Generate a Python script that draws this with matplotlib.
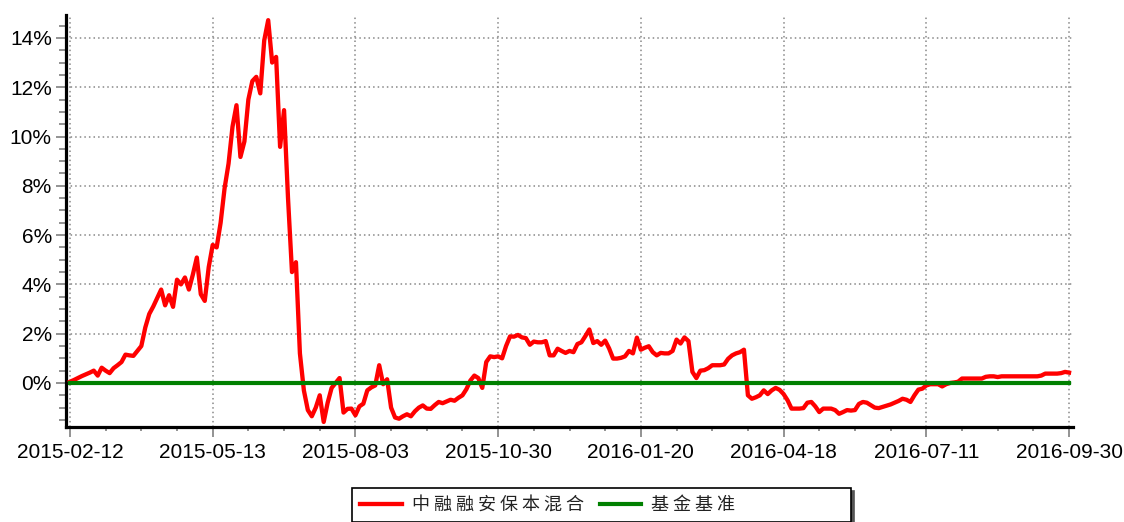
import matplotlib
matplotlib.use("Agg")
import matplotlib.pyplot as plt
from matplotlib.ticker import MultipleLocator, FixedLocator, FuncFormatter
from matplotlib.font_manager import FontProperties

# ---------------- data ----------------
tick_labels = ["2015-02-12", "2015-05-13", "2015-08-03", "2015-10-30",
               "2016-01-20", "2016-04-18", "2016-07-11", "2016-09-30"]
series_names = ["中融融安保本混合", "基金基准"]

# cumulative return (%) of the fund, sampled evenly along the trading-day axis
fund = [
    0.05, 0.12, 0.2, 0.28, 0.35, 0.42, 0.5, 0.3, 0.62, 0.5,
    0.4, 0.6, 0.72, 0.85, 1.15, 1.12, 1.1, 1.3, 1.5, 2.25,
    2.8, 3.1, 3.45, 3.79, 3.15, 3.56, 3.09, 4.19, 4.0, 4.28,
    3.79, 4.4, 5.09, 3.6, 3.33, 4.7, 5.6, 5.5, 6.5, 7.9,
    8.9, 10.4, 11.27, 9.17, 9.8, 11.5, 12.25, 12.42, 11.75, 13.9,
    14.72, 13.0, 13.23, 9.58, 11.07, 7.5, 4.5, 4.9, 1.2, -0.3,
    -1.1, -1.35, -1.0, -0.5, -1.58, -0.8, -0.2, 0.0, 0.2, -1.2,
    -1.05, -1.04, -1.31, -0.95, -0.84, -0.3, -0.18, -0.1, 0.72, -0.05,
    0.15, -1.0, -1.4, -1.45, -1.35, -1.27, -1.35, -1.15, -1.0, -0.91,
    -1.04, -1.05, -0.9, -0.77, -0.82, -0.75, -0.68, -0.72, -0.6, -0.5,
    -0.25, 0.1, 0.3, 0.2, -0.2, 0.85, 1.08, 1.05, 1.08, 1.0,
    1.5, 1.89, 1.88, 1.95, 1.85, 1.82, 1.55, 1.68, 1.65, 1.65,
    1.7, 1.12, 1.12, 1.39, 1.3, 1.22, 1.3, 1.25, 1.58, 1.65,
    1.9, 2.17, 1.62, 1.7, 1.55, 1.72, 1.4, 0.99, 0.99, 1.02,
    1.08, 1.3, 1.2, 1.84, 1.35, 1.43, 1.49, 1.25, 1.12, 1.22,
    1.2, 1.2, 1.3, 1.76, 1.6, 1.85, 1.7, 0.45, 0.2, 0.5,
    0.52, 0.6, 0.72, 0.72, 0.72, 0.75, 0.98, 1.12, 1.2, 1.25,
    1.35, -0.5, -0.64, -0.58, -0.5, -0.3, -0.45, -0.3, -0.2, -0.28,
    -0.45, -0.7, -1.04, -1.04, -1.04, -1.02, -0.8, -0.77, -0.95, -1.18,
    -1.04, -1.04, -1.04, -1.1, -1.25, -1.18, -1.1, -1.12, -1.1, -0.85,
    -0.77, -0.8, -0.9, -1.0, -1.02, -0.97, -0.92, -0.87, -0.8, -0.73,
    -0.64, -0.68, -0.77, -0.5, -0.27, -0.23, -0.1, -0.05, -0.05, -0.05,
    -0.14, -0.05, 0.0, 0.02, 0.05, 0.18, 0.18, 0.18, 0.18, 0.18,
    0.18, 0.25, 0.27, 0.27, 0.24, 0.27, 0.27, 0.27, 0.27, 0.27,
    0.27, 0.27, 0.27, 0.27, 0.27, 0.3, 0.38, 0.38, 0.38, 0.38,
    0.4, 0.45, 0.42,
]
# benchmark is flat at 0 % over the whole period
benchmark = [0.0] * len(fund)

# ---------------- figure ----------------
W, H = 1124, 522
fig = plt.figure(figsize=(W / 100, H / 100), dpi=100)
ax = fig.add_axes([66 / W, 1 - 427 / H, (1073 - 66) / W, (427 - 15) / H])

x = list(range(len(fund)))
step = (len(fund) - 1) / (len(tick_labels) - 1)

l1, = ax.plot(x, fund, color="#ff0000", lw=3.1, solid_joinstyle="round", zorder=3)
l2, = ax.plot(x, benchmark, color="#008000", lw=3.0, zorder=4)

ax.set_xlim(-1.0, len(fund) - 1 + 1.0)
ax.set_ylim(-1.786, 14.93)

tick_font = "Liberation Sans"
ax.xaxis.set_major_locator(FixedLocator([i * step for i in range(len(tick_labels))]))
ax.xaxis.set_minor_locator(MultipleLocator(step / 4))
ax.set_xticklabels(tick_labels)
ax.yaxis.set_major_locator(MultipleLocator(2))
ax.yaxis.set_minor_locator(MultipleLocator(0.5))
ax.yaxis.set_major_formatter(FuncFormatter(lambda v, p: f"{v:.0f}%"))

for lab in ax.get_xticklabels() + ax.get_yticklabels():
    lab.set_fontfamily(tick_font)
    lab.set_fontsize(15)

ax.tick_params(axis="both", which="both", color="#808080", width=1.2, labelcolor="black")
ax.tick_params(axis="y", which="major", length=7.2, pad=3)
ax.tick_params(axis="y", which="minor", length=5)
ax.tick_params(axis="x", which="major", length=7.2, pad=4)
ax.tick_params(axis="x", which="minor", length=3.2)

ax.grid(True, which="major", color="#888888", lw=1.1, linestyle=(0, (1, 2)))
ax.set_axisbelow(True)

for s in ["top", "right"]:
    ax.spines[s].set_visible(False)
for s in ["left", "bottom"]:
    ax.spines[s].set_linewidth(2.3)
    ax.spines[s].set_color("black")

# ---------------- legend ----------------
leg_labels = [" ".join(series_names[0]), " ".join(series_names[1]) + "\u3000" * 6]
leg = ax.legend([l1, l2], leg_labels, loc="upper left",
                bbox_to_anchor=(352 / W, 1 - 488 / H), bbox_transform=fig.transFigure,
                ncol=2, frameon=True, fancybox=False,
                shadow={"color": "#555555", "alpha": 1.0},
                prop=FontProperties(family=["Noto Sans CJK SC", "DejaVu Sans"], size=13),
                handlelength=2.3, handletextpad=0.55, columnspacing=0.9,
                borderpad=0.45, borderaxespad=0)
leg.get_frame().set_edgecolor("black")
leg.get_frame().set_linewidth(1.2)
for t in leg.get_texts():
    t.set_color("#222222")

fig.savefig("out.png", dpi=100)
